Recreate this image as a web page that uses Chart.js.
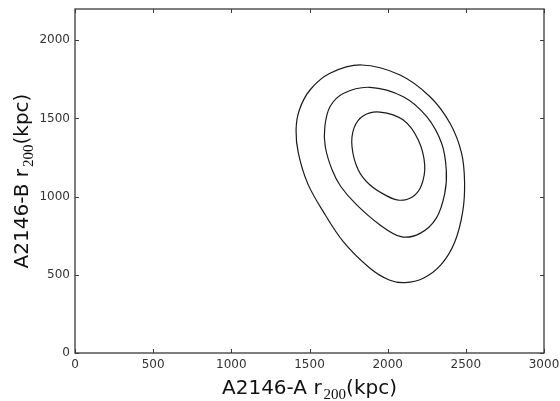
<!DOCTYPE html>
<html>
<head>
<meta charset="utf-8">
<script src="https://cdn.jsdelivr.net/npm/chart.js"></script>
<style>
  html, body { margin: 0; padding: 0; background: #fff; }
  #wrap { width: 560px; height: 401px; }
</style>
</head>
<body>
<div id="wrap"><canvas id="c" width="560" height="401"></canvas></div>
<script>
// Axis ticks
const xTicks = [0, 500, 1000, 1500, 2000, 2500, 3000];
const yTicks = [0, 500, 1000, 1500, 2000];
const xRange = [0, 3000];
const yRange = [0, 2200];

// Contour levels (outer, middle, inner) — kpc, clockwise from the top
const outerX  = [1834, 2079, 2271, 2399, 2473, 2492, 2480, 2430, 2340, 2228, 2111, 2010, 1887, 1716, 1588, 1490, 1429, 1414, 1435, 1503, 1631];
const outerY  = [1842, 1778, 1639, 1469, 1277, 1090,  904,  712,  563,  478,  450,  467,  542,  712,  904, 1080, 1277, 1426, 1554, 1682, 1789];
const middleX = [1887, 2100, 2250, 2345, 2375, 2365, 2310, 2207, 2085, 1951, 1802, 1700, 1645, 1601, 1598, 1631, 1716];
const middleY = [1699, 1639, 1511, 1341, 1170, 1020,  861,  765,  744,  819,  947, 1065, 1170, 1319, 1447, 1575, 1660];
const innerX  = [1951, 2100, 2196, 2237, 2215, 2160, 2075, 1994, 1887, 1812, 1772, 1785, 1845];
const innerY  = [1541, 1490, 1362, 1200, 1070, 1000,  977, 1005, 1074, 1170, 1319, 1440, 1518];

const xTitle = ['A2146-A r', '200', '(kpc)'];
const yTitle = ['A2146-B r', '200', '(kpc)'];

const LINE = '#1a1a1a';
const AXIS = '#3a3a3a';

// Closed loop: wrap neighbours so the curve closes smoothly,
// and hide the two helper segments.
function loop(xs, ys) {
  const n = xs.length;
  const pts = [];
  pts.push({x: xs[n - 1], y: ys[n - 1]});
  for (let i = 0; i < n; i++) pts.push({x: xs[i], y: ys[i]});
  pts.push({x: xs[0], y: ys[0]});
  pts.push({x: xs[1], y: ys[1]});
  return pts;
}
function contourDataset(xs, ys) {
  const data = loop(xs, ys);
  const last = data.length - 1;
  return {
    data,
    showLine: true,
    borderColor: LINE,
    borderWidth: 1.2,
    pointRadius: 0,
    pointHoverRadius: 0,
    tension: 0.33,
    fill: false,
    segment: {
      borderColor: ctx => (ctx.p0DataIndex === 0 || ctx.p1DataIndex === last) ? 'rgba(0,0,0,0)' : LINE
    }
  };
}

const frame = {
  id: 'frame',
  afterDraw(chart) {
    const {ctx, chartArea: a, scales} = chart;
    ctx.save();
    // inward ticks on all four sides
    ctx.strokeStyle = AXIS;
    ctx.lineWidth = 1;
    const tl = 4;
    ctx.beginPath();
    xTicks.forEach(v => {
      const px = Math.round(scales.x.getPixelForValue(v)) + 0.5;
      ctx.moveTo(px, a.bottom); ctx.lineTo(px, a.bottom - tl);
      ctx.moveTo(px, a.top); ctx.lineTo(px, a.top + tl);
    });
    yTicks.forEach(v => {
      const py = Math.round(scales.y.getPixelForValue(v)) + 0.5;
      ctx.moveTo(a.left, py); ctx.lineTo(a.left + tl, py);
      ctx.moveTo(a.right, py); ctx.lineTo(a.right - tl, py);
    });
    ctx.stroke();
    // box
    ctx.lineWidth = 1.3;
    ctx.strokeRect(a.left, a.top, a.right - a.left, a.bottom - a.top);

    // axis titles with subscript
    const mainFont = '20px "DejaVu Sans"';
    const subFont = '15px "Liberation Serif"';
    function drawTitle(parts, cx, baseline) {
      ctx.font = mainFont;
      const w0 = ctx.measureText(parts[0]).width;
      const w2 = ctx.measureText(parts[2]).width;
      ctx.font = subFont;
      const w1 = ctx.measureText(parts[1]).width;
      const gap = 2;
      const total = w0 + gap + w1 + w2;
      let x = cx - total / 2;
      ctx.fillStyle = '#111';
      ctx.textBaseline = 'alphabetic';
      ctx.textAlign = 'left';
      ctx.font = mainFont;
      ctx.fillText(parts[0], x, baseline);
      x += w0 + gap;
      ctx.font = subFont;
      ctx.fillText(parts[1], x, baseline + 5);
      x += w1;
      ctx.font = mainFont;
      ctx.fillText(parts[2], x, baseline);
    }
    drawTitle(xTitle, (a.left + a.right) / 2, 394);
    ctx.translate(28, (a.top + a.bottom) / 2);
    ctx.rotate(-Math.PI / 2);
    drawTitle(yTitle, 0, 0);
    ctx.restore();
  }
};

new Chart(document.getElementById('c'), {
  type: 'scatter',
  data: {
    datasets: [
      contourDataset(outerX, outerY),
      contourDataset(middleX, middleY),
      contourDataset(innerX, innerY)
    ]
  },
  options: {
    responsive: false,
    animation: false,
    devicePixelRatio: 1,
    layout: { padding: { left: 0, top: 9, right: 16, bottom: 0 } },
    plugins: { legend: { display: false }, tooltip: { enabled: false } },
    scales: {
      x: {
        type: 'linear',
        min: xRange[0], max: xRange[1],
        afterBuildTicks: s => { s.ticks = xTicks.map(v => ({value: v})); },
        afterFit: s => { s.height = 48; s.paddingLeft = 0; s.paddingRight = 0; },
        grid: { display: false, drawTicks: false },
        border: { display: false },
        ticks: { padding: 5, color: '#333', font: { family: 'DejaVu Sans', size: 12 }, maxRotation: 0,
                 callback: v => String(v) }
      },
      y: {
        type: 'linear',
        min: yRange[0], max: yRange[1],
        afterBuildTicks: s => { s.ticks = yTicks.map(v => ({value: v})); },
        afterFit: s => { s.width = 75; s.paddingTop = 0; s.paddingBottom = 0; },
        grid: { display: false, drawTicks: false },
        border: { display: false },
        ticks: { padding: 5, color: '#333', font: { family: 'DejaVu Sans', size: 12 },
                 callback: v => String(v) }
      }
    }
  },
  plugins: [frame]
});
</script>
</body>
</html>
